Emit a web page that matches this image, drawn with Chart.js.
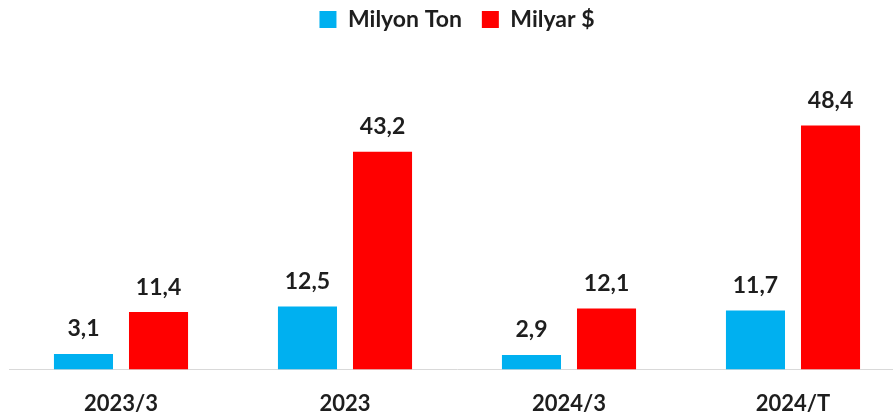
<!DOCTYPE html>
<html>
<head>
<meta charset="utf-8">
<script src="https://cdn.jsdelivr.net/npm/chart.js@4.4.1/dist/chart.umd.min.js"></script>
<style>
html,body{margin:0;padding:0;background:#fff;overflow:hidden;}
#wrap{width:905px;height:442px;position:relative;}
</style>
</head>
<body>
<div id="wrap"><canvas id="c"></canvas></div>
<script>
const categories = ['2023/3', '2023', '2024/3', '2024/T'];
const milyonTon = [3.1, 12.5, 2.9, 11.7];
const milyarDolar = [11.4, 43.2, 12.1, 48.4];
const seriesNames = ['Milyon Ton', 'Milyar $'];

const FONT = 'Lato, "Open Sans", sans-serif';
const TOP_SHIFT = -12;

const legendHeight = {
  id: 'legendHeight',
  beforeInit(chart) {
    const orig = chart.legend.fit;
    chart.legend.fit = function () {
      orig.bind(chart.legend)();
      this.height = 67 - TOP_SHIFT;
    };
  }
};

const dataLabels = {
  id: 'dataLabels',
  afterDatasetsDraw(chart) {
    const ctx = chart.ctx;
    ctx.save();
    ctx.font = 'bold 23px ' + FONT;
    ctx.fillStyle = '#1e1e1e';
    ctx.textAlign = 'center';
    ctx.textBaseline = 'middle';
    chart.data.datasets.forEach((ds, i) => {
      const meta = chart.getDatasetMeta(i);
      meta.data.forEach((bar, j) => {
        ctx.fillText(ds.data[j].toFixed(1).replace('.', ','), bar.x, bar.y - 25);
      });
    });
    ctx.restore();
  }
};

new Chart(document.getElementById('c'), {
  type: 'bar',
  data: {
    labels: categories,
    datasets: [
      { label: seriesNames[0], data: milyonTon, backgroundColor: '#00B0F0' },
      { label: seriesNames[1], data: milyarDolar, backgroundColor: '#FF0000' }
    ]
  },
  options: {
    responsive: true,
    maintainAspectRatio: false,
    animation: false,
    layout: { padding: { left: 9, right: 0, top: TOP_SHIFT, bottom: 4 } },
    categoryPercentage: 0.67,
    barPercentage: 0.787,
    plugins: {
      legend: {
        position: 'top',
        labels: {
          boxWidth: 17,
          boxHeight: 17,
          padding: 20,
          color: '#1e1e1e',
          font: { family: FONT, size: 23, weight: 'bold' }
        }
      },
      tooltip: { enabled: false }
    },
    scales: {
      x: {
        grid: { display: false, drawTicks: false },
        border: { display: true, color: '#d9d9d9', width: 1 },
        ticks: {
          color: '#1e1e1e',
          padding: 21,
          font: { family: FONT, size: 22, weight: 'bold' }
        }
      },
      y: {
        display: false,
        min: 0,
        max: 60
      }
    }
  },
  plugins: [legendHeight, dataLabels]
});
</script>
</body>
</html>
